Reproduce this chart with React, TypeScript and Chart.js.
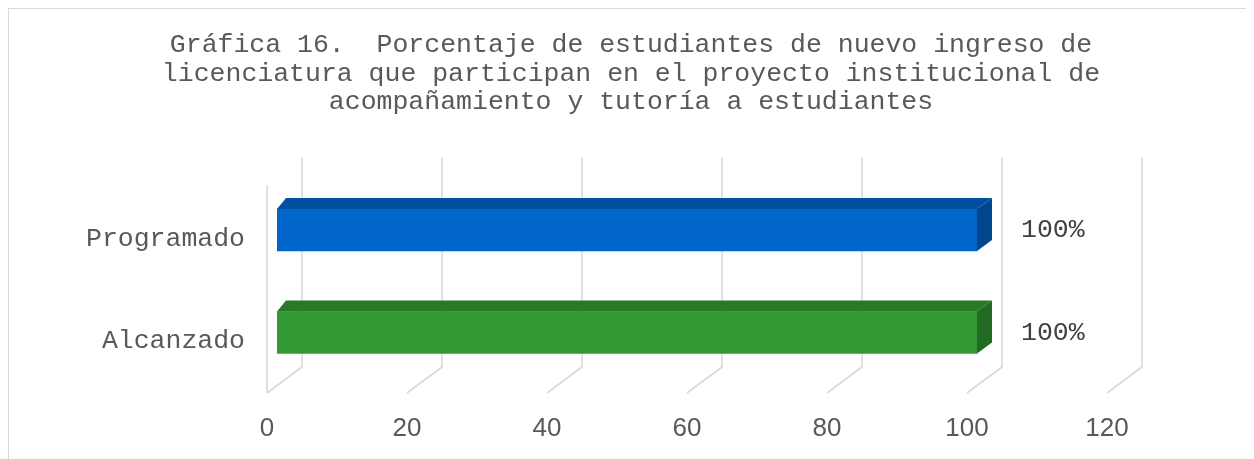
import React, { useEffect, useRef } from "react";
import { Chart, registerables } from "chart.js";

Chart.register(...registerables);

const titleLines = [
  "Gráfica 16.  Porcentaje de estudiantes de nuevo ingreso de",
  "licenciatura que participan en el proyecto institucional de",
  "acompañamiento y tutoría a estudiantes",
];
const categories = ["Programado", "Alcanzado"];
const values = [100, 100];
const frontColors = ["#0066CC", "#339933"];
const topColors = ["#00509F", "#287A28"];
const sideColors = ["#00468C", "#216A21"];
const xMin = 0;
const xMax = 120;
const xStep = 20;

const MONO = "'Liberation Mono', 'DejaVu Sans Mono', monospace";
const SANS = "'Liberation Sans', Arial, sans-serif";

const threeD = {
  id: "threeD",
  beforeDatasetsDraw(chart: any) {
    const ctx = chart.ctx;
    const area = chart.chartArea;
    const xs = chart.scales.x;
    const frontOff = -10;
    const backOff = 25;
    const backTop = area.top - 20.75;
    const backBottom = area.bottom - 16.75;
    const frontBottom = area.bottom + 9.25;
    const frontTop = area.top + 6.25;
    ctx.save();
    ctx.strokeStyle = "#d9d9d9";
    ctx.lineWidth = 1.6;
    const p0 = xs.getPixelForValue(xMin);
    ctx.beginPath();
    ctx.moveTo(p0 + frontOff, frontTop);
    ctx.lineTo(p0 + frontOff, frontBottom);
    ctx.stroke();
    for (let v = xMin; v <= xMax; v += xStep) {
      const p = xs.getPixelForValue(v);
      ctx.beginPath();
      ctx.moveTo(p + backOff, backTop);
      ctx.lineTo(p + backOff, backBottom);
      ctx.lineTo(p + frontOff, frontBottom);
      ctx.stroke();
    }
    ctx.restore();
  },
  afterDatasetsDraw(chart: any) {
    const ctx = chart.ctx;
    const meta = chart.getDatasetMeta(0);
    const dxL = 9;
    const dxR = 15;
    const dy = 11;
    ctx.save();
    meta.data.forEach((el: any, i: number) => {
      const props = el.getProps(["x", "y", "base", "height"], true);
      const x0 = props.base;
      const x1 = props.x;
      const yT = props.y - props.height / 2;
      const yB = props.y + props.height / 2;
      ctx.fillStyle = topColors[i];
      ctx.beginPath();
      ctx.moveTo(x0, yT);
      ctx.lineTo(x0 + dxL, yT - dy);
      ctx.lineTo(x1 + dxR, yT - dy);
      ctx.lineTo(x1, yT);
      ctx.closePath();
      ctx.fill();
      ctx.fillStyle = sideColors[i];
      ctx.beginPath();
      ctx.moveTo(x1, yT);
      ctx.lineTo(x1 + dxR, yT - dy);
      ctx.lineTo(x1 + dxR, yB - dy);
      ctx.lineTo(x1, yB);
      ctx.closePath();
      ctx.fill();
      ctx.fillStyle = "#404040";
      ctx.font = "26.5px " + MONO;
      ctx.textAlign = "left";
      ctx.textBaseline = "middle";
      ctx.fillText(values[i] + "%", x1 + 44, props.y);
    });
    ctx.restore();
  },
};

export default function App() {
  const ref = useRef<HTMLCanvasElement>(null);
  useEffect(() => {
    if (!ref.current) return;
    const chart = new Chart(ref.current, {
      type: "bar",
      data: {
        labels: categories,
        datasets: [
          {
            data: values,
            backgroundColor: frontColors,
            borderWidth: 0,
            barThickness: 42,
          },
        ],
      },
      options: {
        indexAxis: "y",
        animation: false,
        responsive: false,
        maintainAspectRatio: false,
        events: [],
        layout: { padding: 0 },
        plugins: {
          legend: { display: false },
          tooltip: { enabled: false },
          title: {
            display: true,
            text: titleLines,
            color: "#595959",
            font: { family: MONO, size: 26.5, weight: "normal", lineHeight: 28.5 / 26.5 },
            padding: { top: 22.75, bottom: 62.5 },
          },
        },
        scales: {
          x: {
            type: "linear",
            min: xMin,
            max: xMax,
            grid: { display: false, drawTicks: false },
            border: { display: false },
            ticks: {
              stepSize: xStep,
              color: "#595959",
              font: { family: SANS, size: 26 },
              padding: 29,
              labelOffset: -10,
              maxRotation: 0,
            },
            afterFit(scale: any) {
              scale.height = 75.25;
            },
          },
          y: {
            type: "category",
            grid: { display: false, drawTicks: false },
            border: { display: false },
            ticks: {
              color: "#595959",
              font: { family: MONO, size: 26.5 },
              padding: 32,
              labelOffset: 8.5,
            },
            afterFit(scale: any) {
              scale.width = 269;
            },
          },
          yRight: {
            type: "category",
            position: "right",
            axis: "y",
            grid: { display: false, drawTicks: false },
            border: { display: false },
            ticks: { display: false },
            afterFit(scale: any) {
              scale.width = 137;
            },
          },
        },
      },
      plugins: [threeD],
    } as any);
    return () => chart.destroy();
  }, []);
  return (
    <div style={{ position: "relative", width: 1246, height: 451, overflow: "hidden" }}>
      <div
        style={{
          position: "absolute",
          left: 0,
          top: 0,
          width: 1400,
          height: 600,
          border: "1px solid #d9d9d9",
          boxSizing: "border-box",
        }}
      />
      <canvas ref={ref} width={1246} height={451} style={{ position: "absolute", left: 0, top: 0 }} />
    </div>
  );
}
